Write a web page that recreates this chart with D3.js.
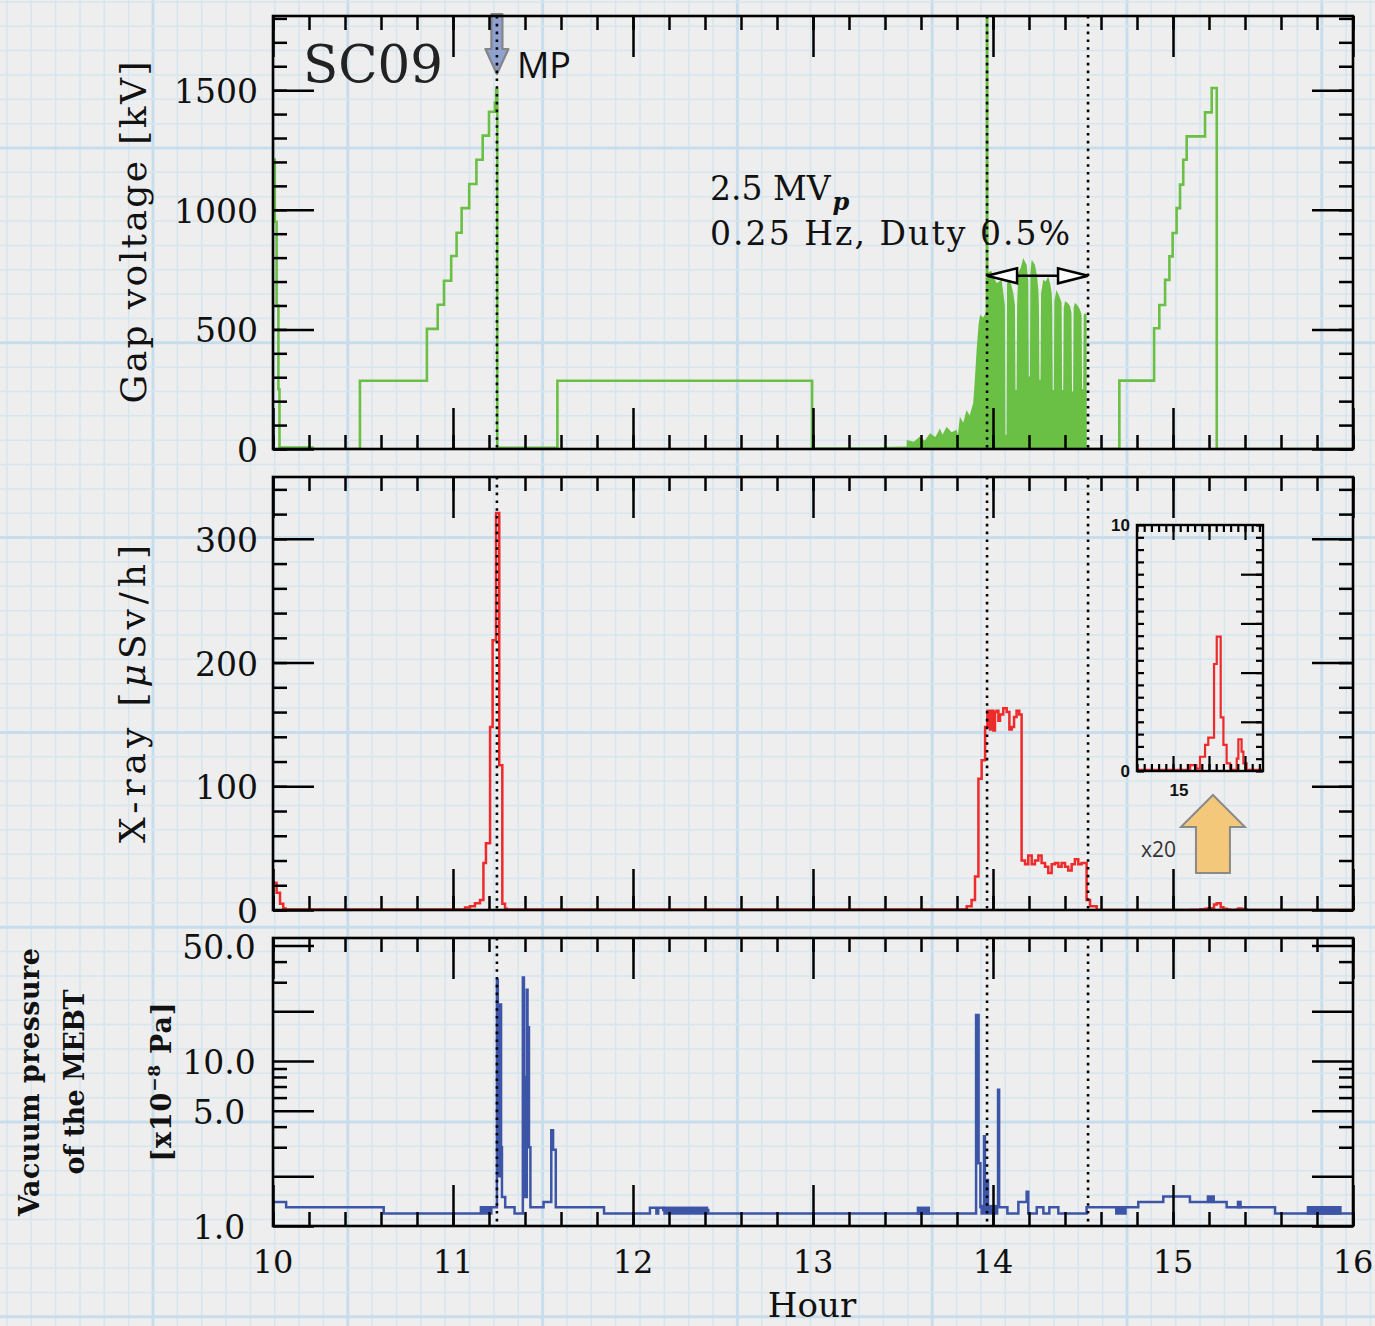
<!DOCTYPE html>
<html>
<head>
<meta charset="utf-8">
<script src="https://cdn.jsdelivr.net/npm/d3@7/dist/d3.min.js"></script>
<style>
  html, body { margin:0; padding:0; background:#ededed; }
  svg { display:block; }
</style>
</head>
<body>
<svg id="chart" width="1375" height="1326"></svg>
<script>
// ================= DATA =================
const hourTicks = [10, 11, 12, 13, 14, 15, 16];
const hourLabels = ["10", "11", "12", "13", "14", "15", "16"];
const voltageTicks = [0, 500, 1000, 1500];
const voltageLabels = ["0", "500", "1000", "1500"];
const xrayTicks = [0, 100, 200, 300];
const xrayLabels = ["0", "100", "200", "300"];
const vacuumMajorTicks = [1, 2, 5, 10, 20, 50];
const vacuumMinorTicks = [3, 4, 6, 7, 8, 9, 30, 40];
const vacuumLabelTicks = [1, 5, 10, 50];
const vacuumLabels = ["1.0", "5.0", "10.0", "50.0"];
const insetYLabelTicks = [0, 10];
const insetYLabels = ["0", "10"];
const insetXLabelTicks = [15];
const insetXLabels = ["15"];
const markerHours = [11.244, 13.967, 14.528];

// Gap voltage [kV] (step-after)
const voltT = [10.000, 10.010, 10.020, 10.030, 10.036, 10.220, 10.483, 10.855, 10.915, 10.950,
               10.990, 11.020, 11.048, 11.090, 11.130, 11.165, 11.200, 11.233, 11.240, 11.246,
               11.580, 12.995, 13.966, 13.968, 14.530, 14.702, 14.895, 14.924, 14.956, 14.980,
               14.998, 15.020, 15.039, 15.057, 15.076, 15.178, 15.215, 15.243, 16.000];
const voltV = [1210, 950, 600, 250, 6, 0, 285, 502, 603, 703,
               807, 904, 1007, 1108, 1209, 1310, 1410, 1448, 1502, 5,
               285, 2, 1900, 2, 0, 286, 505, 602, 707, 805,
               903, 1007, 1105, 1209, 1307, 1407, 1509, 0, 0];

// Pulsed operation envelope (2.5 MVp, 0.25 Hz) [kV]
const burstT = [13.370, 13.520, 13.521, 13.560, 13.594, 13.620, 13.650, 13.680, 13.705, 13.720,
                13.742, 13.770, 13.798, 13.805, 13.816, 13.835, 13.853, 13.870, 13.890, 13.900,
                13.909, 13.920, 13.928, 13.945, 13.960, 13.969, 13.990, 14.002, 14.020, 14.035,
                14.048, 14.066, 14.069, 14.075, 14.078, 14.085, 14.100, 14.113, 14.122, 14.125,
                14.131, 14.134, 14.140, 14.155, 14.168, 14.180, 14.187, 14.196, 14.199, 14.205,
                14.208, 14.215, 14.225, 14.233, 14.245, 14.252, 14.255, 14.258, 14.264, 14.267,
                14.279, 14.292, 14.307, 14.318, 14.326, 14.329, 14.332, 14.338, 14.341, 14.353,
                14.368, 14.381, 14.384, 14.390, 14.393, 14.400, 14.415, 14.428, 14.436, 14.439,
                14.445, 14.448, 14.455, 14.470, 14.483, 14.492, 14.495, 14.501, 14.504, 14.511,
                14.520, 14.521];
const burstV = [8, 10, 38, 30, 52, 35, 66, 50, 86, 60,
                93, 70, 80, 60, 135, 110, 163, 140, 191, 300,
                414, 520, 561, 550, 568, 736, 745, 721, 694, 700,
                707, 600, 60, 60, 690, 714, 690, 651, 600, 247,
                247, 600, 735, 760, 798, 780, 770, 700, 303, 303,
                740, 791, 780, 770, 720, 665, 600, 289, 289, 650,
                707, 700, 721, 690, 651, 600, 247, 247, 620, 665,
                640, 611, 247, 247, 590, 618, 610, 597, 570, 240,
                240, 590, 611, 600, 583, 560, 250, 250, 560, 569,
                560, 0];

// X-ray [uSv/h] (step-after)
const xrayT = [10.000, 10.020, 10.039, 10.057, 10.070, 11.067, 11.094, 11.122, 11.150, 11.169,
               11.183, 11.206, 11.220, 11.239, 11.257, 11.274, 11.289, 11.300, 13.854, 13.881,
               13.900, 13.919, 13.937, 13.956, 13.969, 13.983, 13.993, 14.002, 14.011, 14.020,
               14.030, 14.039, 14.057, 14.076, 14.091, 14.104, 14.117, 14.131, 14.146, 14.159,
               14.178, 14.196, 14.215, 14.233, 14.252, 14.270, 14.289, 14.307, 14.326, 14.344,
               14.363, 14.381, 14.400, 14.418, 14.437, 14.455, 14.474, 14.492, 14.511, 14.520,
               14.539, 14.576, 15.095, 15.130, 15.150, 15.178, 15.196, 15.228, 15.243, 15.265,
               15.280, 15.298, 15.317, 15.354, 15.363, 15.381, 15.391, 15.409, 16.000];
const xrayV = [22, 14, 5, 1.3, 0.5, 2, 3, 5.4, 8, 38,
               54, 148, 218, 321, 117, 5, 1, 0.5, 3, 8,
               27, 106, 121, 148, 161, 146, 161, 145, 160, 161,
               153, 158, 163, 160, 146, 148, 156, 161, 158, 40,
               37, 44, 37, 40, 44, 38, 35, 30, 37, 38,
               35, 38, 35, 32, 37, 41, 37, 38, 38, 8,
               3, 0.05, 0.24, 0.1, 0.58, 1.06, 1.36, 4.35, 5.46, 2.18,
               1.06, 0.31, 0.05, 0.5, 1.29, 0.79, 0.31, 0.05, 0.05];

// Vacuum pressure [x1e-8 Pa] (step-after)
const vacT = [10.000, 10.073, 10.615, 11.155, 11.244, 11.249, 11.262, 11.267, 11.272, 11.290,
              11.342, 11.388, 11.394, 11.400, 11.410, 11.414, 11.418, 11.422, 11.430, 11.503,
              11.546, 11.556, 11.571, 11.839, 12.094, 12.130, 12.140, 12.168, 12.418, 13.906,
              13.920, 13.930, 13.950, 13.955, 13.965, 13.972, 14.028, 14.034, 14.080, 14.141,
              14.187, 14.196, 14.243, 14.280, 14.313, 14.363, 14.520, 14.807, 14.946, 15.094,
              15.298, 15.567, 16.000];
const vacV = [1.40, 1.30, 1.19, 1.30, 31, 2.0, 22, 3.0, 1.5, 1.30,
              1.19, 32, 8, 1.5, 27, 5, 16, 3.0, 1.30, 1.40,
              3.8, 2.9, 1.30, 1.19, 1.29, 1.19, 1.29, 1.25, 1.19, 19,
              2.4, 1.30, 3.5, 1.30, 1.9, 1.30, 6.7, 1.30, 1.19, 1.40,
              1.61, 1.19, 1.30, 1.19, 1.30, 1.19, 1.30, 1.40, 1.51, 1.40,
              1.30, 1.19, 1.19];
// Rapidly toggling intervals of the pressure reading
const vacBandStart = [11.155, 12.168, 13.576, 13.930, 14.678, 15.187, 15.354, 15.743];
const vacBandEnd   = [11.220, 12.418, 13.650, 14.030, 14.743, 15.233, 15.382, 15.937];
const vacBandLow   = [1.19, 1.19, 1.19, 1.19, 1.19, 1.40, 1.30, 1.19];
const vacBandHigh  = [1.30, 1.29, 1.29, 1.32, 1.30, 1.51, 1.40, 1.30];

// ================= CHART =================
const W = 1375, H = 1326;
const svg = d3.select("#chart");
const SERIF = '"DejaVu Serif", "Liberation Serif", serif';
const SANS = '"Liberation Sans", Arial, sans-serif';
const GREEN = "#6abf45", RED = "#ee2a2a", BLUE = "#3c55a6";

// graph-paper background
const bg = svg.append("g");
bg.append("rect").attr("width", W).attr("height", H).attr("fill", "#eeeeee");
const step = 24.35, gx0 = 153, gy0 = 148;
for (let k = -8; gx0 + k * step < W; k++) {
  const xx = gx0 + k * step; if (xx < 0) continue;
  const major = ((k % 8) + 8) % 8 === 0;
  bg.append("line").attr("x1", xx).attr("x2", xx).attr("y1", 0).attr("y2", H)
    .attr("stroke", major ? "#c8ddeb" : "#d6e5ee").attr("stroke-width", major ? 3 : 1.5);
}
for (let k = -8; gy0 + k * step < H; k++) {
  const yy = gy0 + k * step; if (yy < 0) continue;
  const major = ((k % 8) + 8) % 8 === 0;
  bg.append("line").attr("y1", yy).attr("y2", yy).attr("x1", 0).attr("x2", W)
    .attr("stroke", major ? "#c8ddeb" : "#d6e5ee").attr("stroke-width", major ? 3 : 1.5);
}

// scales
const x = d3.scaleLinear().domain([10, 16]).range([273, 1353]);
const yV = d3.scaleLinear().domain([0, 1810]).range([449, 16]);
const yX = d3.scaleLinear().domain([0, 350]).range([910, 477]);
const yP = d3.scaleLog().domain([1, 55.6]).range([1226, 938]);
const hourMinor = d3.range(10, 16.0001, 0.2);

const defs = svg.append("defs");
function clip(id, x0, x1, yt, yb) {
  defs.append("clipPath").attr("id", id).append("rect")
    .attr("x", x0).attr("y", yt).attr("width", x1 - x0).attr("height", yb - yt);
  return `url(#${id})`;
}
const clipV = clip("cV", 273, 1353, 16, 449);
const clipX = clip("cX", 273, 1353, 477, 910);
const clipP = clip("cP", 273, 1353, 938, 1226);

// ---- panel 1: gap voltage ----
svg.append("path").datum(d3.zip(burstT, burstV)).attr("clip-path", clipV)
  .attr("d", d3.area().x(d => x(d[0])).y0(yV(0)).y1(d => yV(d[1])))
  .attr("fill", GREEN).attr("stroke", "none");
svg.append("path").datum(d3.zip(voltT, voltV)).attr("clip-path", clipV)
  .attr("d", d3.line().curve(d3.curveStepAfter).x(d => x(d[0])).y(d => yV(d[1])))
  .attr("fill", "none").attr("stroke", GREEN).attr("stroke-width", 2.6);

// ---- panel 2: x-ray ----
svg.append("path").datum(d3.zip(xrayT, xrayV)).attr("clip-path", clipX)
  .attr("d", d3.line().curve(d3.curveStepAfter).x(d => x(d[0])).y(d => yX(d[1])))
  .attr("fill", "none").attr("stroke", RED).attr("stroke-width", 2.5);

// ---- panel 3: vacuum ----
const bands = d3.range(vacBandStart.length).map(i => [vacBandStart[i], vacBandEnd[i], vacBandLow[i], vacBandHigh[i]]);
svg.append("g").attr("clip-path", clipP).selectAll("rect").data(bands).join("rect")
  .attr("x", d => x(d[0])).attr("width", d => x(d[1]) - x(d[0]))
  .attr("y", d => yP(d[3]) - 1.2).attr("height", d => yP(d[2]) - yP(d[3]) + 2.4)
  .attr("fill", BLUE);
svg.append("path").datum(d3.zip(vacT, vacV)).attr("clip-path", clipP)
  .attr("d", d3.line().curve(d3.curveStepAfter).x(d => x(d[0])).y(d => yP(d[1])))
  .attr("fill", "none").attr("stroke", BLUE).attr("stroke-width", 2.5);

// ---- MP arrow (drawn under dotted line) ----
{
  const xm = x(markerHours[0]);
  const pts = [[xm - 5.5, 14], [xm + 5.5, 14], [xm + 5.5, 49], [xm + 11.5, 49], [xm, 74],
               [xm - 11.5, 49], [xm - 5.5, 49]];
  svg.append("polygon").attr("points", pts.map(p => p.join(",")).join(" "))
    .attr("fill", "#8fa1cf").attr("stroke", "#858585").attr("stroke-width", 2.2)
    .attr("stroke-linejoin", "round");
}

// ---- dotted markers ----
[yV, yX, yP].forEach(y => {
  markerHours.forEach(h => {
    svg.append("line").attr("x1", x(h)).attr("x2", x(h))
      .attr("y1", y.range()[1]).attr("y2", y.range()[0])
      .attr("stroke", "#000").attr("stroke-width", 2.6).attr("stroke-dasharray", "2.6,5.2");
  });
});

// ---- frames with ticks ----
function frame(y, majorY, minorY) {
  const [X0, X1] = x.range();
  const [Yb, Yt] = y.range();
  const g = svg.append("g").attr("color", "#000");
  const axes = [
    [d3.axisBottom(x).tickValues(hourTicks).tickSize(-41), `translate(0,${Yb})`],
    [d3.axisBottom(x).tickValues(hourMinor).tickSize(-14), `translate(0,${Yb})`],
    [d3.axisTop(x).tickValues(hourTicks).tickSize(-41), `translate(0,${Yt})`],
    [d3.axisTop(x).tickValues(hourMinor).tickSize(-14), `translate(0,${Yt})`],
    [d3.axisLeft(y).tickValues(majorY).tickSize(-41), `translate(${X0},0)`],
    [d3.axisLeft(y).tickValues(minorY).tickSize(-14), `translate(${X0},0)`],
    [d3.axisRight(y).tickValues(majorY).tickSize(-41), `translate(${X1},0)`],
    [d3.axisRight(y).tickValues(minorY).tickSize(-14), `translate(${X1},0)`]
  ];
  axes.forEach(([a, t]) => {
    g.append("g").attr("transform", t).call(a.tickFormat(() => ""))
      .call(s => { s.select(".domain").remove(); s.selectAll("text").remove();
                   s.selectAll("line").attr("stroke-width", 2.5); });
  });
  g.append("rect").attr("x", X0).attr("y", Yt).attr("width", X1 - X0).attr("height", Yb - Yt)
    .attr("fill", "none").attr("stroke", "#000").attr("stroke-width", 2.6);
}
frame(yV, voltageTicks, d3.range(0, 1801, 100));
frame(yX, xrayTicks, d3.range(0, 350, 20));
frame(yP, vacuumMajorTicks, vacuumMinorTicks);

// ---- tick labels ----
function yLabels(y, ticks, labels, anchor, xPos) {
  svg.append("g").selectAll("text").data(ticks).join("text")
    .attr("x", xPos).attr("y", d => y(d) + 13)
    .attr("text-anchor", anchor).attr("font-family", SERIF).attr("font-size", 33)
    .attr("fill", "#111").text((d, i) => labels[i]);
}
yLabels(yV, voltageTicks, voltageLabels, "end", 258);
yLabels(yX, xrayTicks, xrayLabels, "end", 258);
yLabels(yP, vacuumLabelTicks, vacuumLabels, "middle", 219);
svg.append("g").selectAll("text").data(hourTicks).join("text")
  .attr("x", d => x(d)).attr("y", 1273).attr("text-anchor", "middle")
  .attr("font-family", SERIF).attr("font-size", 32).attr("fill", "#111")
  .text((d, i) => hourLabels[i]);

// ---- axis titles ----
svg.append("text").attr("x", 812).attr("y", 1317).attr("text-anchor", "middle")
  .attr("font-family", SERIF).attr("font-size", 34).attr("fill", "#111").text("Hour");

function vTitle(cx, cy, size, weight, len) {
  return svg.append("text").attr("transform", `translate(${cx},${cy}) rotate(-90)`)
    .attr("text-anchor", "middle").attr("font-family", SERIF).attr("font-size", size)
    .attr("font-weight", weight).attr("fill", "#111")
    .attr("textLength", len).attr("lengthAdjust", "spacing");
}
vTitle(146, 232.5, 36, "normal", 342).text("Gap voltage [kV]");
{
  const t = vTitle(145, 694, 36, "normal", 298);
  t.append("tspan").text("X-ray [");
  t.append("tspan").attr("font-style", "italic").text("μ");
  t.append("tspan").text("Sv/h]");
}
vTitle(39, 1082, 27, "bold", 268).text("Vacuum pressure");
vTitle(84, 1082, 27, "bold", 185).text("of the MEBT");
{
  const t = vTitle(171, 1082, 27, "bold", 159);
  t.append("tspan").text("[x10");
  t.append("tspan").attr("font-size", 17).attr("dy", -11).text("−8");
  t.append("tspan").attr("dy", 11).text(" Pa]");
}

// ---- annotations panel 1 ----
svg.append("text").attr("x", 303).attr("y", 82).attr("font-family", SERIF)
  .attr("font-size", 52).attr("fill", "#222").attr("textLength", 140)
  .attr("lengthAdjust", "spacingAndGlyphs").text("SC09");
svg.append("text").attr("x", 517).attr("y", 78).attr("font-family", '"Open Sans", sans-serif')
  .attr("font-size", 37).attr("fill", "#111").attr("textLength", 54)
  .attr("lengthAdjust", "spacingAndGlyphs").text("MP");
{
  const t = svg.append("text").attr("x", 710).attr("y", 200).attr("font-family", SERIF)
    .attr("font-size", 33).attr("fill", "#111");
  t.append("tspan").text("2.5 MV");
  t.append("tspan").attr("font-size", 24).attr("font-style", "italic").attr("font-weight", "bold")
    .attr("dy", 10).attr("dx", 2).text("p");
}
svg.append("text").attr("x", 710).attr("y", 245).attr("font-family", SERIF)
  .attr("font-size", 33).attr("fill", "#111").attr("textLength", 360)
  .attr("lengthAdjust", "spacing").text("0.25 Hz, Duty 0.5%");

// double arrow between markers
{
  const xa = x(markerHours[1]), xb = x(markerHours[2]), ya = yV(724);
  const g = svg.append("g").attr("stroke", "#000").attr("stroke-width", 2.5).attr("stroke-linejoin", "miter");
  g.append("line").attr("x1", xa + 30).attr("x2", xb - 30).attr("y1", ya).attr("y2", ya);
  g.append("polygon").attr("points", `${xa},${ya} ${xa + 30},${ya - 7.5} ${xa + 30},${ya + 7.5}`).attr("fill", "#fff");
  g.append("polygon").attr("points", `${xb},${ya} ${xb - 30},${ya - 7.5} ${xb - 30},${ya + 7.5}`).attr("fill", "#fff");
}

// ---- inset (x20) ----
{
  const xi = d3.scaleLinear().domain([14.8, 15.5]).range([x(14.8), x(15.5)]);
  const yi = d3.scaleLinear().domain([0, 10]).range([771, 525]);
  const clipI = clip("cI", xi.range()[0], xi.range()[1], 525, 771);
  svg.append("path").datum(d3.zip(xrayT, xrayV)).attr("clip-path", clipI)
    .attr("d", d3.line().curve(d3.curveStepAfter).x(d => xi(d[0])).y(d => yi(d[1])))
    .attr("fill", "none").attr("stroke", RED).attr("stroke-width", 2.2);
  const [X0, X1] = xi.range(), [Yb, Yt] = yi.range();
  const g = svg.append("g").attr("color", "#000");
  const axes = [
    [d3.axisBottom(xi).tickValues([15.0, 15.2, 15.4]).tickSize(-15), `translate(0,${Yb})`],
    [d3.axisBottom(xi).tickValues(d3.range(14.8, 15.5001, 0.04)).tickSize(-7), `translate(0,${Yb})`],
    [d3.axisTop(xi).tickValues([15.0, 15.2, 15.4]).tickSize(-15), `translate(0,${Yt})`],
    [d3.axisTop(xi).tickValues(d3.range(14.8, 15.5001, 0.04)).tickSize(-7), `translate(0,${Yt})`],
    [d3.axisLeft(yi).tickValues(d3.range(0, 10.01, 0.5)).tickSize(-7), `translate(${X0},0)`],
    [d3.axisRight(yi).tickValues(d3.range(0, 10.01, 0.5)).tickSize(-7), `translate(${X1},0)`],
    [d3.axisRight(yi).tickValues([2, 4, 6, 8]).tickSize(-22), `translate(${X1},0)`]
  ];
  axes.forEach(([a, t]) => {
    g.append("g").attr("transform", t).call(a.tickFormat(() => ""))
      .call(s => { s.select(".domain").remove(); s.selectAll("text").remove();
                   s.selectAll("line").attr("stroke-width", 2.2); });
  });
  g.append("rect").attr("x", X0).attr("y", Yt).attr("width", X1 - X0).attr("height", Yb - Yt)
    .attr("fill", "none").attr("stroke", "#000").attr("stroke-width", 2.4);
  svg.append("g").selectAll("text").data(insetYLabelTicks).join("text")
    .attr("x", X0 - 7).attr("y", d => yi(d) + 6).attr("text-anchor", "end")
    .attr("font-family", SANS).attr("font-weight", "bold").attr("font-size", 17).attr("fill", "#111")
    .text((d, i) => insetYLabels[i]);
  svg.append("g").selectAll("text").data(insetXLabelTicks).join("text")
    .attr("x", d => xi(d) + 6).attr("y", 796).attr("text-anchor", "middle")
    .attr("font-family", SANS).attr("font-weight", "bold").attr("font-size", 17).attr("fill", "#111")
    .text((d, i) => insetXLabels[i]);

  // yellow arrow pointing to the small bump
  const xc = x(15.222);
  const pts = [[xc, 795], [xc + 32, 827], [xc + 17, 827], [xc + 17, 873], [xc - 17, 873],
               [xc - 17, 827], [xc - 32, 827]];
  svg.append("polygon").attr("points", pts.map(p => p.join(",")).join(" "))
    .attr("fill", "#f4c87a").attr("stroke", "#8a8a8a").attr("stroke-width", 2);
  svg.append("text").attr("x", 1141).attr("y", 857).attr("font-family", '"Open Sans", sans-serif')
    .attr("font-size", 21).attr("fill", "#333").text("x20");
}
</script>
</body>
</html>
